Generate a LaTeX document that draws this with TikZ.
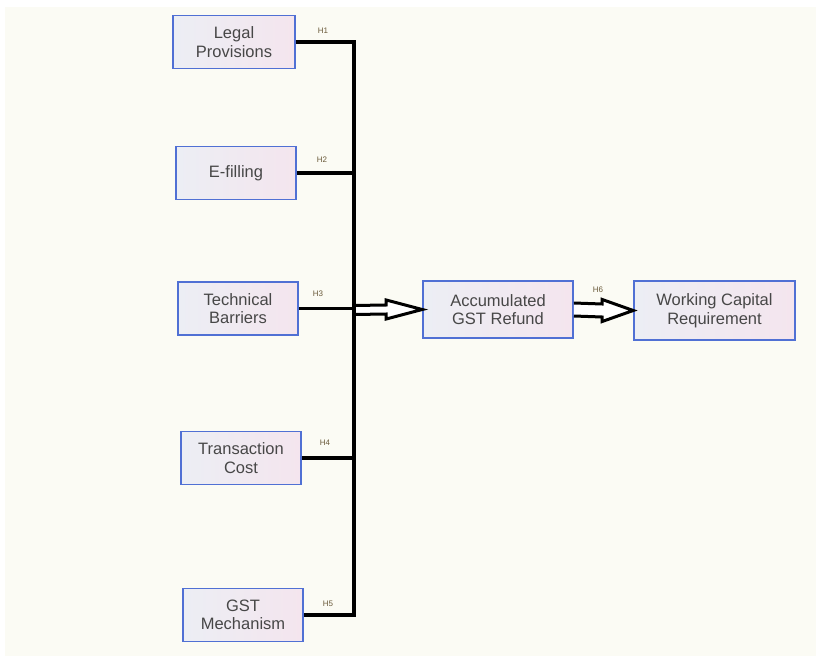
\documentclass[tikz,border=0pt]{standalone}
\usepackage{fontspec}
\setmainfont{Liberation Sans}
\usetikzlibrary{calc}
\definecolor{bgcream}{HTML}{FBFBF4}
\definecolor{boxL}{HTML}{ECEEF4}
\definecolor{boxR}{HTML}{F4E5EE}
\definecolor{boxline}{HTML}{5070D4}
\definecolor{txt}{HTML}{474747}
\definecolor{lbl}{HTML}{6A5A3A}
\tikzset{
  varbox/.style={draw=boxline, line width=1.6pt, left color=boxL, right color=boxR,
    minimum width=120pt, minimum height=53pt, align=center, text=txt,
    font=\fontsize{16.5}{18.5}\selectfont, inner sep=2pt},
  wire/.style={line width=3.6pt, black, line join=miter},
  hlabel/.style={font=\fontsize{8}{9}\selectfont, text=lbl, inner sep=0pt},
  hollow/.style={line width=3pt, black, fill=white, line join=miter}
}
\newcommand{\hollowarrow}[5]{% start, end, shaft half, head half, head length
  \filldraw[hollow] ($(#1)+(0,#3)$) -- ($(#2)+(-#5,#3)$) -- ($(#2)+(-#5,#4)$) -- (#2)
    -- ($(#2)+(-#5,-#4)$) -- ($(#2)+(-#5,-#3)$) -- ($(#1)+(0,-#3)$);
}
\begin{document}
\begin{tikzpicture}[x=1pt,y=-1pt]
\useasboundingbox (0,0) rectangle (821,663);
\fill[white] (0,0) rectangle (821,663);
\fill[bgcream] (5,7) rectangle (816,656);

\node[varbox, minimum width=122pt] (lp) at (234,42) {Legal\\Provisions};
\node[varbox] (ef) at (236,173) {E-filling};
\node[varbox] (tb) at (238,308.5) {Technical\\Barriers};
\node[varbox] (tc) at (241,458) {Transaction\\Cost};
\node[varbox] (gm) at (243,615) {GST\\Mechanism};
\node[varbox, minimum width=150pt, minimum height=57pt] (acc) at (498,309.5) {Accumulated\\GST Refund};
\node[varbox, minimum width=161pt, minimum height=59pt] (wcr) at (714.5,310.5) {Working Capital\\Requirement};

\coordinate (bus) at (354,310);

% hollow arrows
\hollowarrow{bus}{acc.west}{4.5}{9.5}{36}
\hollowarrow{acc.east}{wcr.west}{6.5}{11}{31}

% bus wires
\draw[wire] (lp.east) -- (lp.east -| bus) -- (gm.east -| bus) -- (gm.east);
\draw[wire] (ef.east) -- (ef.east -| bus);
\draw[wire] (tb.east) -- (tb.east -| bus);
\draw[wire] (tc.east) -- (tc.east -| bus);

% labels
\node[hlabel] (h1) at (323,31) {H1};
\node[hlabel] (h2) at (322,160) {H2};
\node[hlabel] (h3) at (318,294) {H3};
\node[hlabel] (h4) at (325,443) {H4};
\node[hlabel] (h5) at (328,604) {H5};
\node[hlabel] (h6) at (598,290) {H6};
\end{tikzpicture}
\end{document}
